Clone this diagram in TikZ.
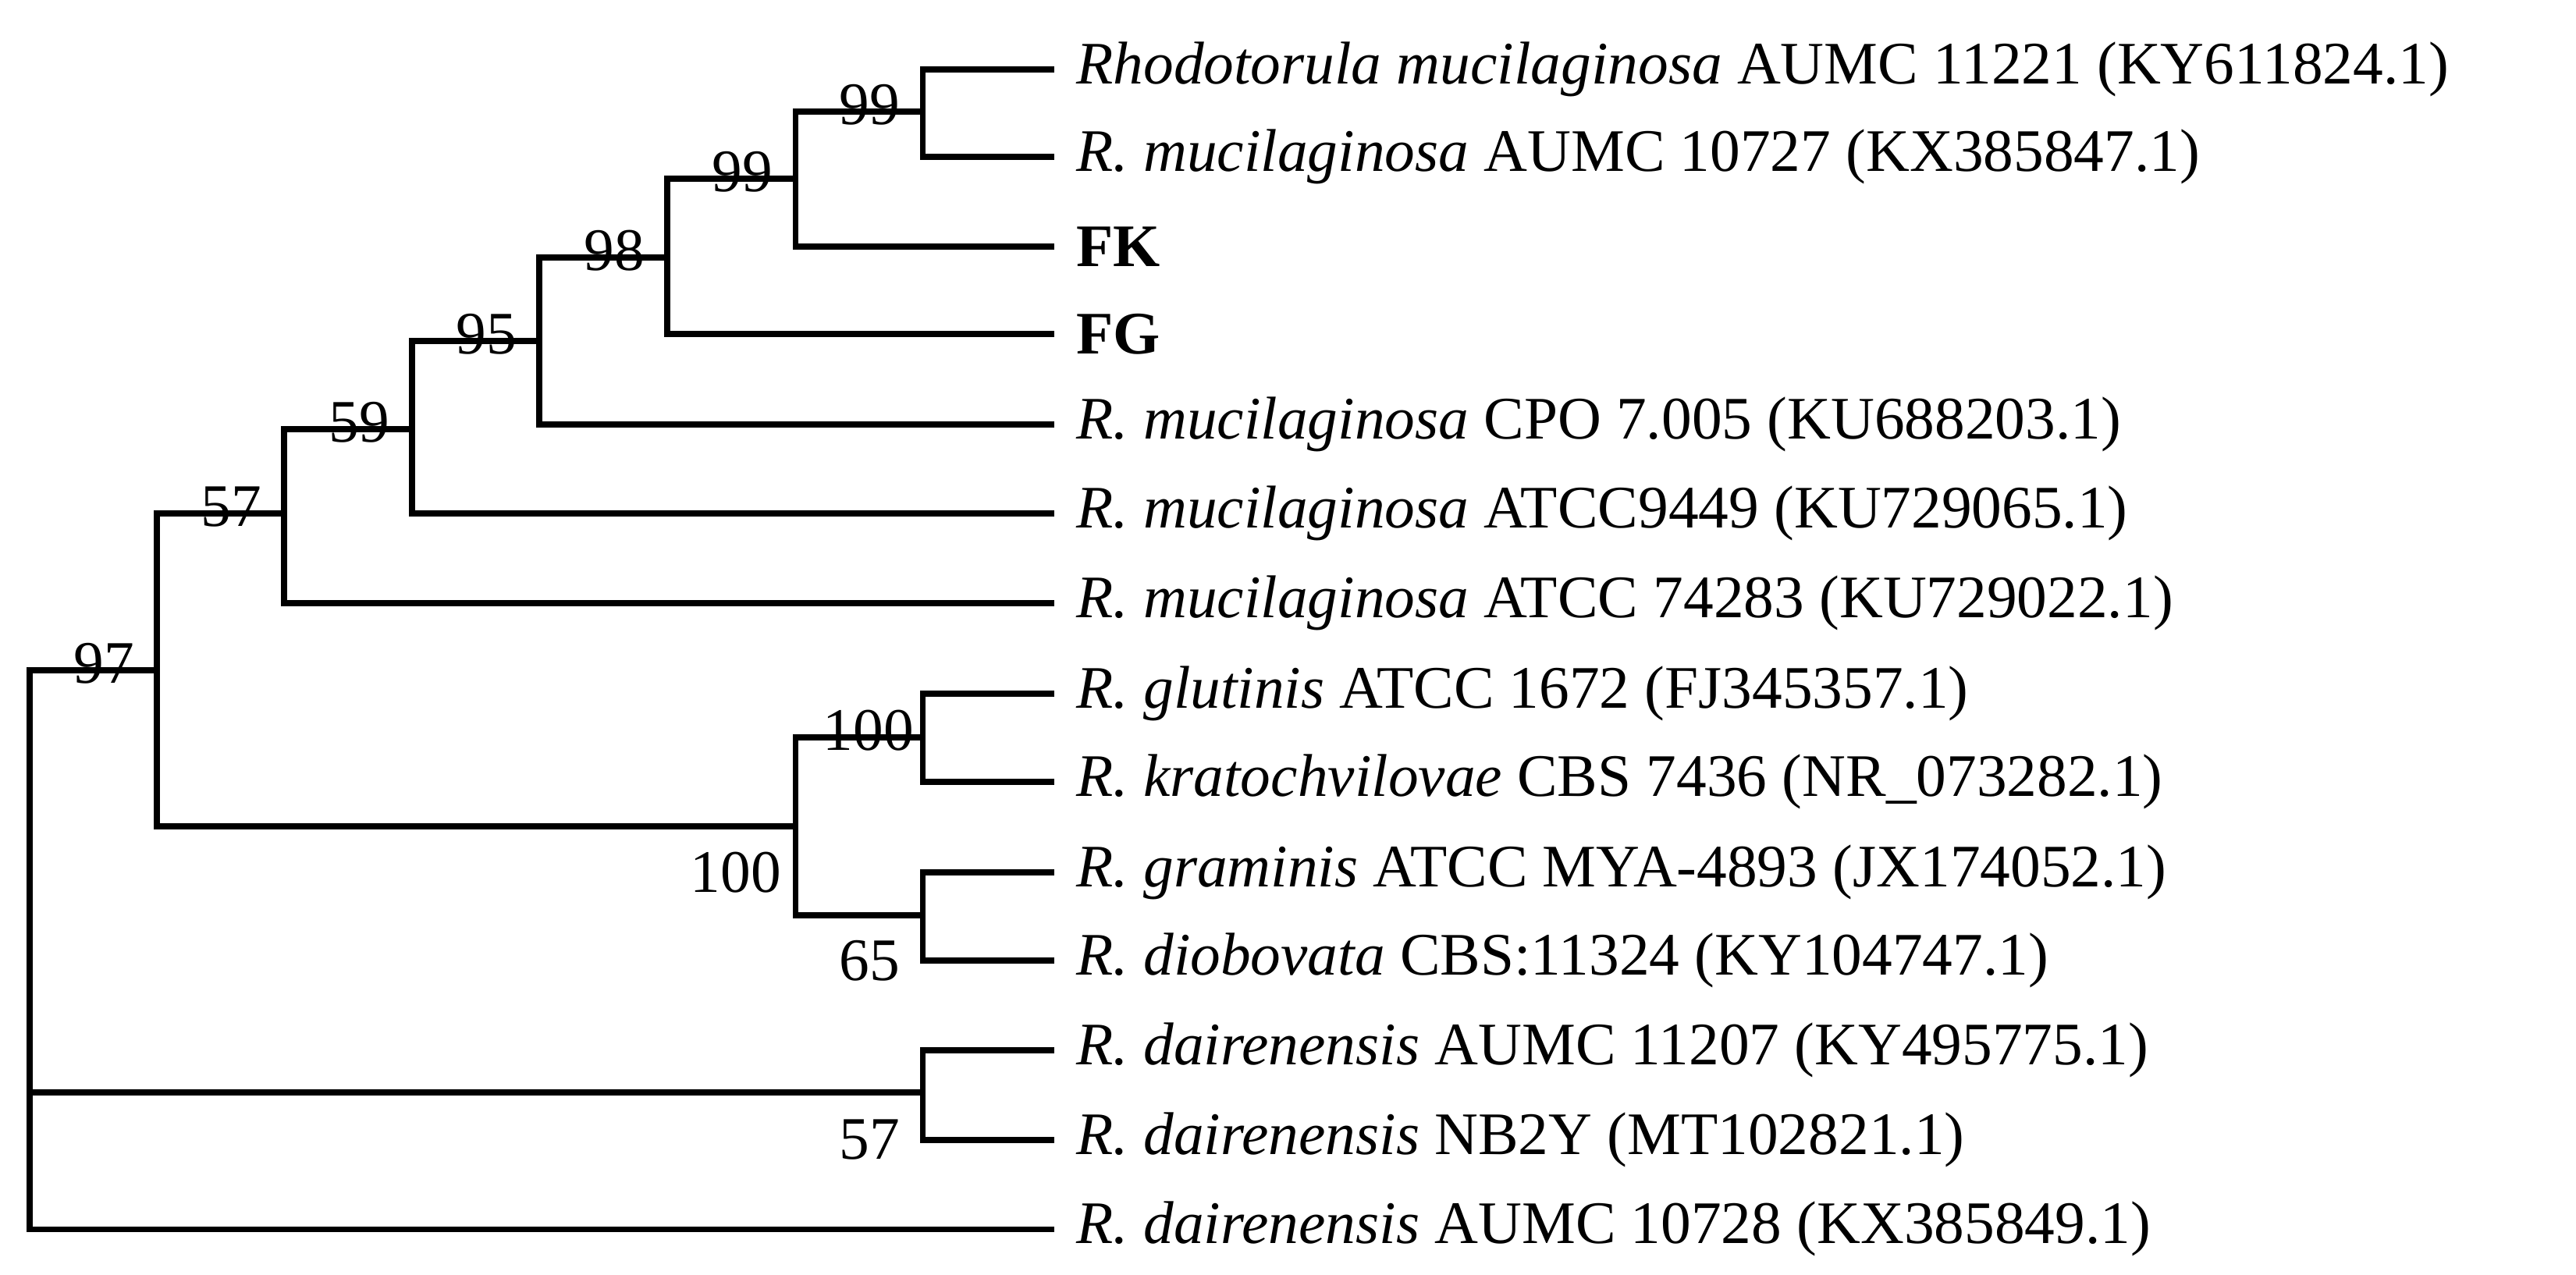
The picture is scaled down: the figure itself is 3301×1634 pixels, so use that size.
\documentclass[tikz,border=0pt]{standalone}
\usepackage{fontspec}
\setmainfont{Liberation Serif}
\begin{document}
\begin{tikzpicture}[x=0.01cm,y=-0.01cm,
  br/.style={line width=2pt,line cap=rect},
  lf/.style={anchor=west,inner sep=0pt,font=\fontsize{22}{24}\selectfont},
  bs/.style={inner sep=0pt,font=\fontsize{22}{24}\selectfont}]
\useasboundingbox (0,0) rectangle (3301,1634);
% leaves
\foreach \i/\y in {1/89,2/201,3/316,4/428,5/544,6/658,7/773,8/889,9/1002,10/1118,11/1231,12/1346,13/1461,14/1575}
  \coordinate (l\i) at (1347,\y);
% internal nodes
\coordinate (a) at (1182,143);   % 99 top
\coordinate (b) at (1019,229);   % 99
\coordinate (c) at (855,330);    % 98
\coordinate (d) at (691,437);    % 95
\coordinate (e) at (528,550);    % 59
\coordinate (f) at (364,658);    % 57
\coordinate (g) at (201,859);    % 97
\coordinate (h) at (1019,1059);  % 100
\coordinate (i) at (1182,945);   % 100 top
\coordinate (j) at (1182,1173);  % 65
\coordinate (k) at (1182,1400);  % 57 bottom
\coordinate (r) at (38,1400);    % root
\draw[br] (l1) -| (a) |- (l2);
\draw[br] (a) -| (b) |- (l3);
\draw[br] (b) -| (c) |- (l4);
\draw[br] (c) -| (d) |- (l5);
\draw[br] (d) -| (e) |- (l6);
\draw[br] (e) -| (f) |- (l7);
\draw[br] (i) -| (h) |- (j);
\draw[br] (l8) -| (i) |- (l9);
\draw[br] (l10) -| (j) |- (l11);
\draw[br] (f) -| (g) |- (h);
\draw[br] (l12) -| (k) |- (l13);
\draw[br] (g) -| (r) |- (l14);
\draw[br] (r) -- (k);
% bootstrap labels
\node[bs,anchor=south east] (s1) at ([xshift=-8pt,yshift=-5pt]a) {99};
\node[bs,anchor=south east] (s2) at ([xshift=-8pt,yshift=-5pt]b) {99};
\node[bs,anchor=south east] (s3) at ([xshift=-8pt,yshift=-5pt]c) {98};
\node[bs,anchor=south east] (s4) at ([xshift=-8pt,yshift=-5pt]d) {95};
\node[bs,anchor=south east] (s5) at ([xshift=-8pt,yshift=-5pt]e) {59};
\node[bs,anchor=south east] (s6) at ([xshift=-8pt,yshift=-5pt]f) {57};
\node[bs,anchor=south east] (s7) at ([xshift=-8pt,yshift=-5pt]g) {97};
\node[bs,anchor=south east] (s8) at ([xshift=-3pt,yshift=-5pt]i) {100};
\node[bs,anchor=east] (s9) at ([xshift=-5pt]h |- l10) {100};
\node[bs,anchor=east] (s10) at ([xshift=-8pt]j |- l11) {65};
\node[bs,anchor=east] (s11) at ([xshift=-8pt]k |- l13) {57};
% leaf labels
\node[lf] (t1) at ([xshift=9pt]l1) {\textit{Rhodotorula mucilaginosa} AUMC 11221 (KY611824.1)};
\node[lf] (t2) at ([xshift=9pt]l2) {\textit{R. mucilaginosa} AUMC 10727 (KX385847.1)};
\node[lf] (t3) at ([xshift=9pt]l3) {\textbf{FK}};
\node[lf] (t4) at ([xshift=9pt]l4) {\textbf{FG}};
\node[lf] (t5) at ([xshift=9pt]l5) {\textit{R. mucilaginosa} CPO 7.005 (KU688203.1)};
\node[lf] (t6) at ([xshift=9pt]l6) {\textit{R. mucilaginosa} ATCC9449 (KU729065.1)};
\node[lf] (t7) at ([xshift=9pt]l7) {\textit{R. mucilaginosa} ATCC 74283 (KU729022.1)};
\node[lf] (t8) at ([xshift=9pt]l8) {\textit{R. glutinis} ATCC 1672 (FJ345357.1)};
\node[lf] (t9) at ([xshift=9pt]l9) {\textit{R. kratochvilovae} CBS 7436 (NR\_073282.1)};
\node[lf] (t10) at ([xshift=9pt]l10) {\textit{R. graminis} ATCC MYA-4893 (JX174052.1)};
\node[lf] (t11) at ([xshift=9pt]l11) {\textit{R. diobovata} CBS:11324 (KY104747.1)};
\node[lf] (t12) at ([xshift=9pt]l12) {\textit{R. dairenensis} AUMC 11207 (KY495775.1)};
\node[lf] (t13) at ([xshift=9pt]l13) {\textit{R. dairenensis} NB2Y (MT102821.1)};
\node[lf] (t14) at ([xshift=9pt]l14) {\textit{R. dairenensis} AUMC 10728 (KX385849.1)};
\end{tikzpicture}
\end{document}
